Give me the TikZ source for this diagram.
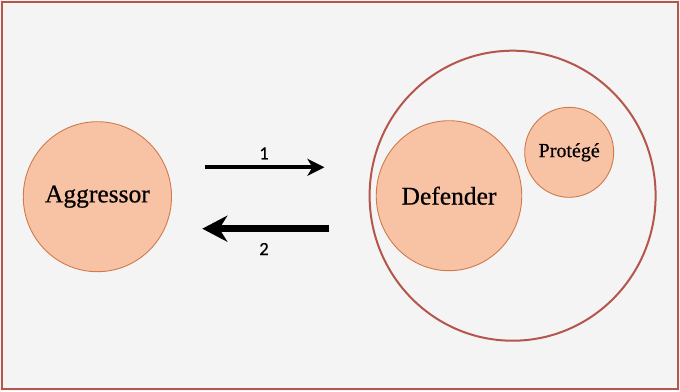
\documentclass[tikz,border=0pt]{standalone}
\usepackage{fontspec}
\setmainfont{Liberation Serif}
\newfontfamily\heavyserif[FakeBold=0.6]{Liberation Serif}
\newfontfamily\labfont[FakeBold=0.4]{Carlito}
\usetikzlibrary{arrows.meta,shapes.geometric}
\definecolor{bgc}{HTML}{F4F4F4}
\definecolor{framec}{HTML}{B5564C}
\definecolor{fillc}{HTML}{F8C3A5}
\definecolor{edgec}{HTML}{CF7A4C}
\tikzset{
  actor/.style={ellipse, draw=edgec, fill=fillc, line width=0.9pt, inner sep=0pt},
  numlabel/.style={font=\labfont\fontsize{18.5}{20}\selectfont, inner sep=0pt},
}
\begin{document}
\begin{tikzpicture}[x=1pt,y=-1pt]
\useasboundingbox (0,0) rectangle (680,391);
\fill[bgc] (0,0) rectangle (680,391);
\draw[framec, line width=2.5pt] (2,2) rectangle (678,389);
% group circle
\node[ellipse, draw=framec, line width=2pt, minimum width=286pt, minimum height=290pt, inner sep=0pt] (grp) at (512.6,195.7) {};
\node[actor, minimum width=145.5pt, minimum height=150pt, font=\heavyserif\fontsize{25.5}{28}\selectfont] (agg) at (97.4,196.7) {Aggressor};
\node[actor, minimum width=145.5pt, minimum height=150pt, font=\heavyserif\fontsize{25.5}{28}\selectfont] (def) at (449,195.7) {Defender};
\node[actor, minimum width=89pt, minimum height=90pt, font=\heavyserif\fontsize{20}{22}\selectfont] (pro) at (569.2,152.3) {Protégé};
% arrows
\coordinate (a1s) at (204.7,167.3);
\coordinate (a1e) at (324.4,167.3);
\coordinate (a2s) at (329.3,228.7);
\coordinate (a2e) at (202.3,228.7);
\draw[line width=3.8pt, -{Stealth[length=17pt,width=17pt,inset=5pt]}] (a1s) -- (a1e);
\draw[line width=6.5pt, -{Stealth[length=25pt,width=26pt,inset=8pt]}] (a2s) -- (a2e);
\node[numlabel] (l1) at (264,153.3) {1};
\node[numlabel] (l2) at (264,249) {2};
\end{tikzpicture}
\end{document}
